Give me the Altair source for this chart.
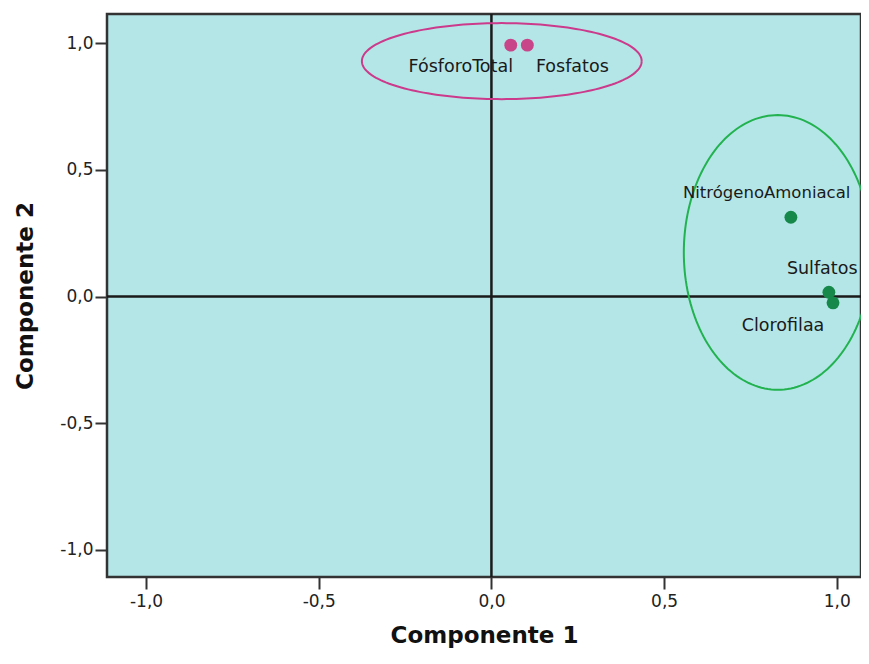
import altair as alt
import pandas as pd
import numpy as np

# Variables (component loadings)
names = ["FósforoTotal", "Fosfatos", "NitrógenoAmoniacal", "Sulfatos", "Clorofilaa"]
comp1 = [0.056, 0.104, 0.867, 0.977, 0.989]
comp2 = [0.992, 0.992, 0.313, 0.017, -0.025]
group = ["A", "A", "B", "B", "B"]

# Ellipses grouping the variables (centre and radii in data units)
ell_group = ["A", "B"]
ell_cx = [0.030, 0.829]
ell_cy = [0.929, 0.174]
ell_rx = [0.405, 0.272]
ell_ry = [0.150, 0.542]

ticks = [-1.0, -0.5, 0.0, 0.5, 1.0]

pt_colors = {"A": "#C8458A", "B": "#16894A"}
ell_colors = {"A": "#CC3A8C", "B": "#22B24F"}

df = pd.DataFrame({"name": names, "c1": comp1, "c2": comp2, "g": group})

rows = []
theta = np.linspace(0, 2 * np.pi, 181)
for g, cx, cy, rx, ry in zip(ell_group, ell_cx, ell_cy, ell_rx, ell_ry):
    for i, t in enumerate(theta):
        rows.append({"g": g, "i": i, "x": cx + rx * np.cos(t), "y": cy + ry * np.sin(t)})
ell_df = pd.DataFrame(rows)

xdom = [-1.113, 1.070]
ydom = [-1.107, 1.115]

lab_expr = "(datum.value < 0 ? '-' : '') + replace(format(abs(datum.value), '.1f'), '.', ',')"

xscale = alt.Scale(domain=xdom, nice=False, zero=False)
yscale = alt.Scale(domain=ydom, nice=False, zero=False)

xaxis = alt.Axis(values=ticks, labelExpr=lab_expr, title="Componente 1", grid=False,
                 domain=False, tickSize=12, tickWidth=2, tickColor="#333333",
                 labelFontSize=17, labelFont="DejaVu Sans", labelColor="#222222",
                 labelPadding=4, titleFontSize=23, titleFont="DejaVu Sans",
                 titleFontWeight="bold", titleColor="#111111", titlePadding=15)
yaxis = alt.Axis(values=ticks, labelExpr=lab_expr, title="Componente 2", grid=False,
                 domain=False, tickSize=12, tickWidth=2, tickColor="#333333",
                 labelFontSize=17, labelFont="DejaVu Sans", labelColor="#222222",
                 labelPadding=2, titleFontSize=23, titleFont="DejaVu Sans",
                 titleFontWeight="bold", titleColor="#111111", titlePadding=22)

zero = pd.DataFrame({"z": [0.0]})
vline = alt.Chart(zero).mark_rule(color="#1a1a1a", strokeWidth=2.5).encode(
    x=alt.X("z:Q", scale=xscale, axis=xaxis))
hline = alt.Chart(zero).mark_rule(color="#1a1a1a", strokeWidth=2.5).encode(
    y=alt.Y("z:Q", scale=yscale, axis=yaxis))

ellipses = alt.Chart(ell_df).mark_line(strokeWidth=2, clip=True).encode(
    x=alt.X("x:Q", scale=xscale),
    y=alt.Y("y:Q", scale=yscale),
    detail="g:N",
    order="i:Q",
    color=alt.Color("g:N", scale=alt.Scale(domain=list(ell_colors), range=list(ell_colors.values())), legend=None),
)

points = alt.Chart(df).mark_circle(size=165, opacity=1, clip=True).encode(
    x=alt.X("c1:Q", scale=xscale),
    y=alt.Y("c2:Q", scale=yscale),
    color=alt.Color("g:N", scale=alt.Scale(domain=list(pt_colors), range=list(pt_colors.values())), legend=None),
)

label_style = {
    "FósforoTotal": dict(dx=-50, dy=22, align="center", fontSize=17.5),
    "Fosfatos": dict(dx=45, dy=22, align="center", fontSize=17.5),
    "NitrógenoAmoniacal": dict(dx=-108, dy=-24, align="left", fontSize=16.5),
    "Sulfatos": dict(dx=-42, dy=-23, align="left", fontSize=17.5),
    "Clorofilaa": dict(dx=-50, dy=23, align="center", fontSize=17.5),
}

labels = []
for n in names:
    st = label_style[n]
    labels.append(
        alt.Chart(df).transform_filter(alt.datum.name == n).mark_text(
            font="DejaVu Sans", color="#1a1a1a", baseline="middle",
            clip=True, **st).encode(
            x=alt.X("c1:Q", scale=xscale),
            y=alt.Y("c2:Q", scale=yscale),
            text="name:N")
    )

chart = alt.layer(vline, hline, ellipses, points, *labels).resolve_scale(
    color="independent"
).properties(
    width=754, height=563,
    autosize=alt.AutoSizeParams(type="none"),
    padding={"left": 99, "top": 6, "right": 0, "bottom": 75},
    background="white",
).configure_view(
    fill="#B4E6E7", stroke="#333333", strokeWidth=2.5
)

chart.save("out.html", embed_options={"renderer": "svg", "actions": False})
